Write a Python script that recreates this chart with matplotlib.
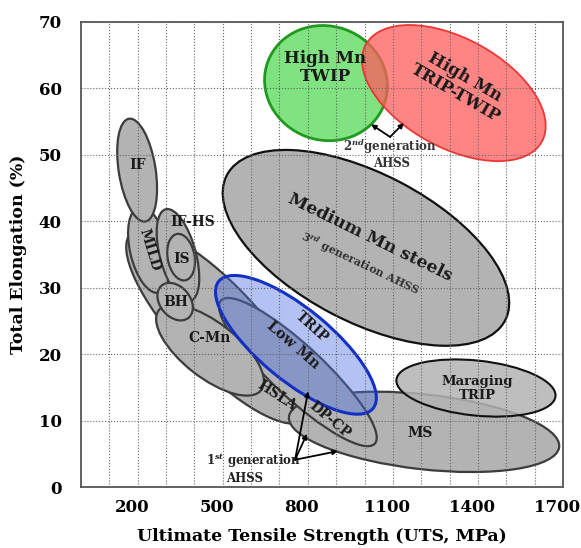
import numpy as np
import matplotlib
matplotlib.use('Agg')
import matplotlib.pyplot as plt
from matplotlib.colors import to_rgba
from matplotlib.patches import Ellipse
from matplotlib.transforms import Affine2D, ScaledTranslation

plt.rcParams['font.family'] = ['DejaVu Serif']
plt.rcParams['font.weight'] = 'bold'
plt.rcParams['axes.labelweight'] = 'bold'
plt.rcParams['mathtext.fontset'] = 'dejavuserif'

# steel families, drawn in this order (back to front)
grades = ['HSLA', 'MS', 'DP-CP', 'C-Mn', 'MILD', 'IF-HS', 'IS', 'BH', 'IF',
          'Maraging', 'Medium Mn', 'TRIP', 'TWIP', 'TRIP-TWIP']
# centre of each region: UTS (MPa), total elongation (%)
uts_centre = [484, 1210, 765, 455, 240, 342, 353, 332, 198,
              1393, 1005, 758, 864, 1315]
elong_centre = [24.2, 8.3, 17.3, 20.6, 35.7, 34.9, 34.6, 27.9, 47.7,
                14.9, 36.0, 21.4, 60.8, 59.3]
# size of each region along / across its long axis (MPa on the display scale)
span_long = [900, 959, 741, 458, 310, 335, 166, 148, 367,
             564, 1107, 705, 437, 709]
span_short = [289, 264, 183, 194, 134, 127, 95, 106, 130,
              194, 522, 254, 402, 384]
tilt = [-47, -6.4, -43, -38, 103, 105, 100, 130, 99,
        -6, -27.6, -39.5, -20, -28.9]

x_ticks = [200, 500, 800, 1100, 1400, 1700]
y_ticks = [0, 10, 20, 30, 40, 50, 60, 70]

gray = dict(fc='#b3b3b3', ec='#3c3c3c', lw=1.6, alpha=1.0)
styles = {g: gray for g in grades}
styles['Maraging'] = dict(fc='#b3b3b3', ec='#111111', lw=1.5, alpha=0.85)
styles['Medium Mn'] = dict(fc='#b3b3b3', ec='#111111', lw=1.6, alpha=1.0)
styles['TRIP'] = dict(fc='#4a6fe0', ec='#1430c4', lw=2.2, alpha=0.42)
styles['TWIP'] = dict(fc='#80e280', ec='#1f9a1f', lw=2.0, alpha=1.0)
styles['TRIP-TWIP'] = dict(fc='#ff5c5c', ec='#ec3636', lw=1.3, alpha=0.75)

fig = plt.figure(figsize=(5.81, 5.48), dpi=100)
ax = fig.add_axes([81 / 581, 61 / 548, 482 / 581, 465 / 548])
ax.set_xlim(0, 1700)
ax.set_ylim(0, 70)

# equal pixel scale so the regions keep their shape when tilted
bb = ax.get_window_extent()
k = (bb.height / 70) / (bb.width / 1700)
tr = Affine2D().scale(1, 1 / k) + ax.transData

for i, g in enumerate(grades):
    st = styles[g]
    ax.add_patch(Ellipse((uts_centre[i], elong_centre[i] * k), span_long[i],
                         span_short[i], angle=tilt[i], transform=tr,
                         facecolor=to_rgba(st['fc'], st['alpha']),
                         edgecolor=st['ec'], linewidth=st['lw'], zorder=1))

# grid drawn over the regions
ax.set_axisbelow(False)
ax.set_xticks(np.arange(100, 1700, 100), minor=True)
ax.set_xticks(x_ticks)
ax.set_yticks(y_ticks)
ax.grid(True, which='both', axis='x', color='#666666', ls=':', lw=0.8)
ax.grid(True, which='major', axis='y', color='#666666', ls=':', lw=0.8)
ax.tick_params(which='both', length=0)
ax.tick_params(axis='y', labelsize=12, pad=14)
ax.tick_params(axis='x', labelsize=12, pad=9)
# x labels in the source sit a few pixels left of their grid line
shift = ScaledTranslation(-6 / 100, 0, fig.dpi_scale_trans)
for t in ax.get_xticklabels():
    t.set_transform(t.get_transform() + shift)
for s in ax.spines.values():
    s.set_color('#555555')
    s.set_linewidth(1.3)

ax.set_xlabel('Ultimate Tensile Strength (UTS, MPa)', fontsize=12.5, labelpad=8)
ax.set_ylabel('Total Elongation (%)', fontsize=12.5, labelpad=8)


def label(x, y, s, size=10, rot=0, color='#1a1a1a'):
    ax.text(x, y, s, fontsize=size, rotation=rot, ha='center', va='center',
            rotation_mode='anchor', color=color, zorder=4, linespacing=1.1)


label(861, 63.1, 'High Mn\nTWIP', 12)
label(1337, 60.5, 'High Mn\nTRIP-TWIP', 12, -30)
label(1019, 37.6, 'Medium Mn steels', 12.5, -26)
label(984, 33.6, r'3$^{rd}$ generation AHSS', 8, -25.5, '#333333')
label(201, 48.5, 'IF', 10)
label(395, 39.9, 'IF-HS', 10)
label(243, 35.7, 'MILD', 10, -73)
label(356, 34.3, 'IS', 10)
label(335, 27.8, 'BH', 10)
label(455, 22.4, 'C-Mn', 10)
label(691, 13.7, 'HSLA', 10, -33)
label(878, 10.1, 'DP-CP', 10, -40)
label(815, 24.1, 'TRIP', 10, -42)
label(748, 21.4, 'Low Mn', 10.5, -41)
label(1196, 8.1, 'MS', 10)
label(1397, 14.9, 'Maraging\nTRIP', 9.5)
label(1090, 51.2, r'2$^{nd}$generation', 8.5, 0, '#333333')
label(1097, 48.7, 'AHSS', 8.5, 0, '#333333')
label(607, 3.9, r'1$^{st}$ generation', 8.5, 0, '#222222')
label(578, 1.3, 'AHSS', 8.5, 0, '#222222')

arrow = dict(arrowstyle='-|>', lw=1.3, color='black', mutation_scale=7,
             shrinkA=0, shrinkB=0)
for tx, ty in [(1023, 54.6), (1139, 54.8)]:
    ax.annotate('', xy=(tx, ty), xytext=(1090, 52.7), arrowprops=arrow, zorder=5)
for tx, ty in [(801, 14.4), (797, 8.0), (906, 5.4)]:
    ax.annotate('', xy=(tx, ty), xytext=(755, 4.1), arrowprops=arrow, zorder=5)

fig.savefig('out.png', dpi=100)
